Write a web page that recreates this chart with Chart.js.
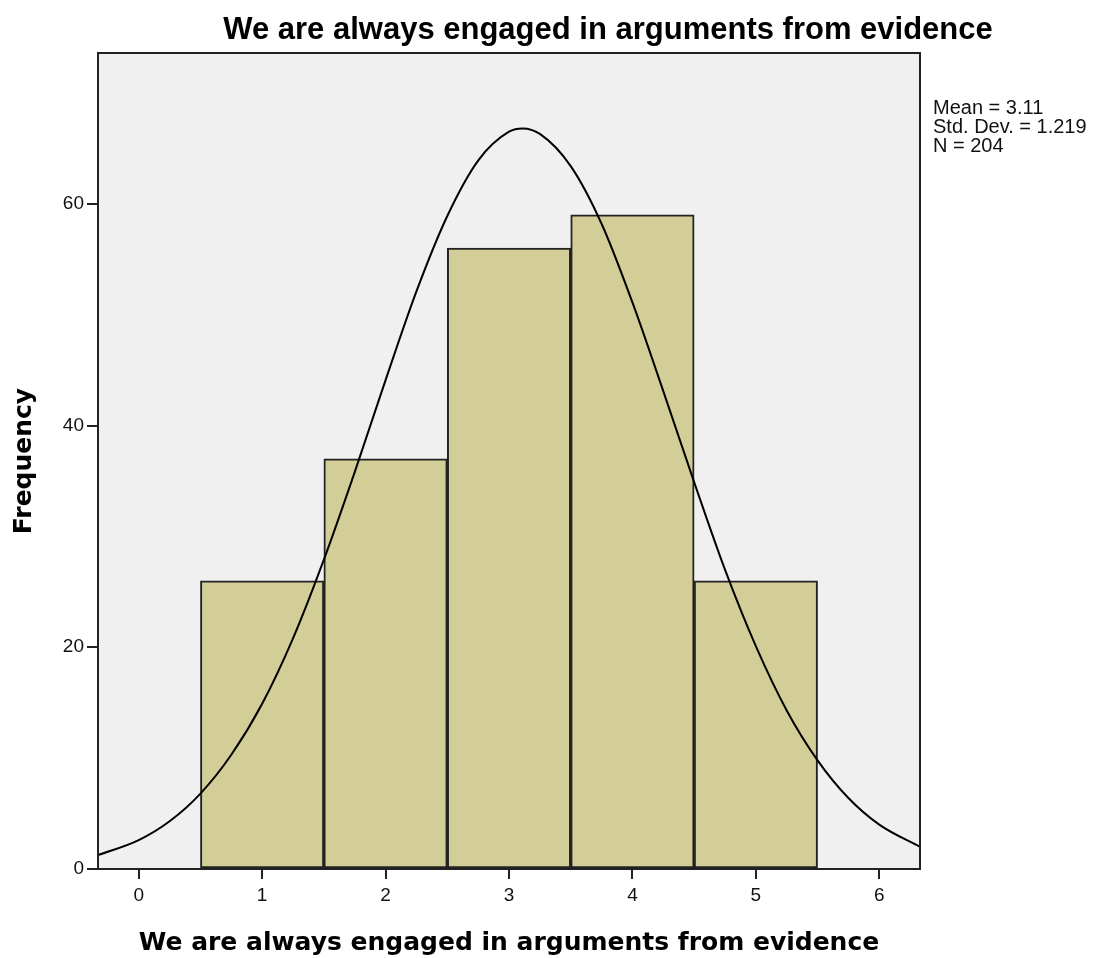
<!DOCTYPE html>
<html><head><meta charset="utf-8">
<script src="https://cdn.jsdelivr.net/npm/chart.js@4.4.1/dist/chart.umd.min.js"></script>
<style>html,body{margin:0;padding:0;background:#fff}#wrap{width:1104px;height:958px}</style>
</head><body><div id="wrap"><canvas id="c" width="1104" height="958"></canvas></div>
<script>
const chartTitle = 'We are always engaged in arguments from evidence';
const xAxisTitle = 'We are always engaged in arguments from evidence';
const yAxisTitle = 'Frequency';
const binCenters = [1, 2, 3, 4, 5];
const frequencies = [26, 37, 56, 59, 26];
// normal curve
const curveX = [-0.33, 0, 0.25, 0.5, 0.75, 1, 1.25, 1.5, 1.75, 2, 2.25, 2.5, 2.75, 3, 3.11, 3.25, 3.5, 3.75, 4, 4.25, 4.5, 4.75, 5, 5.25, 5.5, 5.75, 6, 6.33];
const curveY = [1.25, 2.6, 4.3, 6.8, 10.3, 14.9, 20.8, 27.9, 35.8, 44.1, 52.1, 58.9, 63.9, 66.5, 66.8, 66.3, 63.4, 58.2, 51.1, 43.1, 34.9, 27.0, 20.1, 14.3, 9.8, 6.4, 4.0, 2.0];
const xTickValues = [0, 1, 2, 3, 4, 5, 6];
const yTickValues = [0, 20, 40, 60];
const statsLines = ['Mean = 3.11', 'Std. Dev. = 1.219', 'N = 204'];

const decor = {
  id: 'decor',
  beforeDatasetsDraw(chart) {
    const {ctx, chartArea: a} = chart;
    ctx.save();
    ctx.fillStyle = '#F0F0F0';
    ctx.fillRect(a.left, a.top, a.right - a.left, a.bottom - a.top);
    ctx.restore();
  },
  afterDraw(chart) {
    const {ctx, chartArea: a} = chart;
    ctx.save();
    ctx.strokeStyle = '#222';
    ctx.lineWidth = 2;
    ctx.strokeRect(a.left, a.top, a.right - a.left, a.bottom - a.top);
    ctx.fillStyle = '#000';
    ctx.textAlign = 'center';
    ctx.textBaseline = 'alphabetic';
    ctx.font = 'bold 31px "Liberation Sans", Arial, sans-serif';
    ctx.fillText(chartTitle, 608, 39);
    ctx.textAlign = 'left';
    ctx.font = '20px "Liberation Sans", Arial, sans-serif';
    ctx.fillStyle = '#111';
    statsLines.forEach((t, i) => ctx.fillText(t, 933, 114 + i * 19));
    ctx.restore();
  }
};

new Chart(document.getElementById('c'), {
  data: {
    datasets: [
      {
        type: 'line',
        data: curveX.map((x, i) => ({x, y: curveY[i]})),
        borderColor: '#000',
        borderWidth: 2,
        pointRadius: 0,
        tension: 0.4,
        cubicInterpolationMode: 'monotone',
        fill: false,
        order: 0
      },
      {
        type: 'bar',
        data: binCenters.map((x, i) => ({x, y: frequencies[i]})),
        backgroundColor: '#D3CE97',
        borderColor: '#222',
        borderWidth: 2,
        borderSkipped: false,
        barPercentage: 1,
        categoryPercentage: 1,
        order: 1
      }
    ]
  },
  options: {
    responsive: false,
    animation: false,
    devicePixelRatio: 1,
    layout: {padding: {top: 53, right: 184, left: 0, bottom: 0}},
    plugins: {legend: {display: false}, tooltip: {enabled: false}, title: {display: false}},
    scales: {
      x: {
        type: 'linear',
        offset: false,
        min: -0.33,
        max: 6.33,
        afterBuildTicks: s => { s.ticks = xTickValues.map(v => ({value: v})); },
        afterFit: s => { s.height = 89; },
        grid: {display: true, offset: false, drawOnChartArea: false, drawTicks: true, tickLength: 10, color: '#222', lineWidth: 2},
        border: {display: true, color: '#222', width: 2},
        ticks: {color: '#111', font: {family: '"Liberation Sans", Arial, sans-serif', size: 19}, padding: 5, maxRotation: 0},
        title: {display: true, text: xAxisTitle, color: '#000', font: {family: '"DejaVu Sans", Verdana, sans-serif', size: 25, weight: 'bold'}, padding: {top: 0, bottom: 0}}
      },
      y: {
        type: 'linear',
        min: 0,
        max: 73.6,
        afterBuildTicks: s => { s.ticks = yTickValues.map(v => ({value: v})); },
        afterFit: s => { s.width = 98; },
        grid: {display: true, drawOnChartArea: false, drawTicks: true, tickLength: 11, color: '#222', lineWidth: 2},
        border: {display: true, color: '#222', width: 2},
        ticks: {color: '#111', font: {family: '"Liberation Sans", Arial, sans-serif', size: 19}, padding: 3},
        title: {display: true, text: yAxisTitle, color: '#000', font: {family: '"DejaVu Sans", Verdana, sans-serif', size: 25, weight: 'bold'}, padding: {top: 9, bottom: 0}}
      }
    }
  },
  plugins: [decor]
});
</script>
</body></html>
